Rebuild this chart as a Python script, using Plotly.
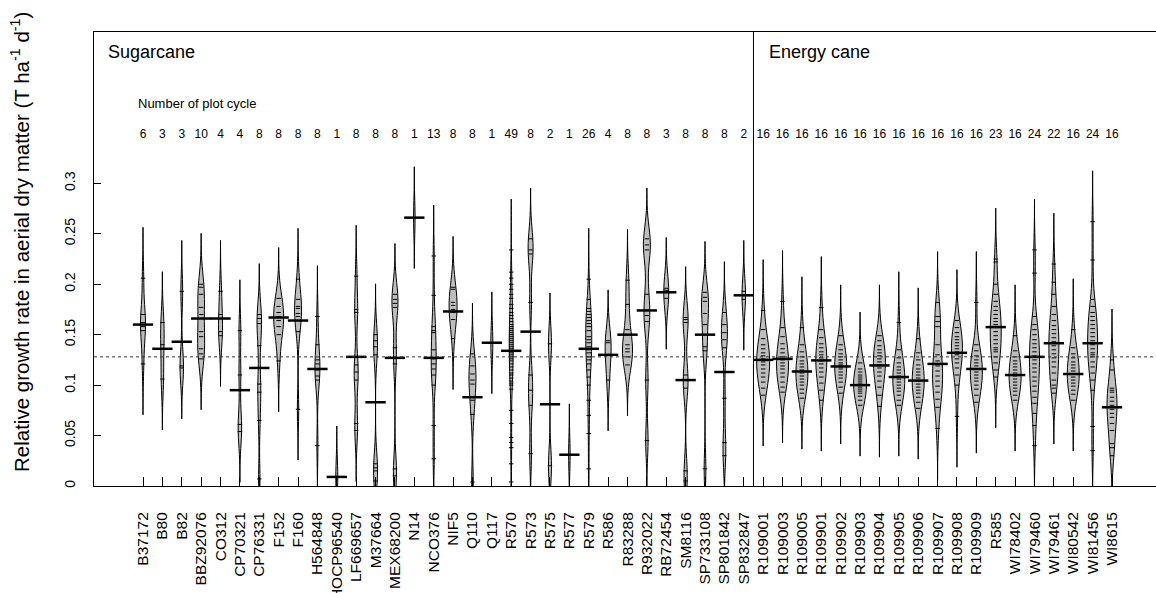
import plotly.graph_objects as go

# ---------------- data ----------------
categories = ["B37172", "B80", "B82", "BBZ92076", "CO312", "CP70321", "CP76331", "F152", "F160",
              "H564848", "HOCP96540", "LF669657", "M37664", "MEX68200", "N14", "NCO376", "NIF5",
              "Q110", "Q117", "R570", "R573", "R575", "R577", "R579", "R586", "R83288", "R932022",
              "RB72454", "SM8116", "SP733108", "SP801842", "SP832847",
              "R109001", "R109003", "R109005", "R109901", "R109902", "R109903", "R109904",
              "R109905", "R109906", "R109907", "R109908", "R109909", "R585", "WI78402",
              "WI79460", "WI79461", "WI80542", "WI81456", "WI8615"]

counts = [6, 3, 3, 10, 4, 4, 8, 8, 8, 8, 1, 8, 8, 8, 1, 13, 8, 8, 1, 49, 8, 2, 1, 26, 4, 8, 8, 3, 8, 8, 8, 2,
          16, 16, 16, 16, 16, 16, 16, 16, 16, 16, 16, 16, 23, 16, 24, 22, 16, 24, 16]

means = [0.160, 0.136, 0.143, 0.166, 0.166, 0.095, 0.117, 0.167, 0.164, 0.116, 0.009, 0.128, 0.083,
         0.127, 0.266, 0.127, 0.173, 0.088, 0.142, 0.134, 0.153, 0.081, 0.031, 0.136, 0.130, 0.150,
         0.174, 0.192, 0.105, 0.150, 0.113, 0.189,
         0.125, 0.126, 0.1135, 0.1245, 0.1185, 0.100, 0.1195, 0.108, 0.1045, 0.121, 0.132, 0.116,
         0.1575, 0.110, 0.128, 0.1415, 0.111, 0.1415, 0.078]

overall_mean = 0.128

obs_B37172 = [0.121, 0.154, 0.158, 0.162, 0.170, 0.206]
obs_B80 = [0.106, 0.140, 0.162]
obs_B82 = [0.117, 0.119, 0.193]
obs_BBZ92076 = [0.126, 0.131, 0.136, 0.148, 0.153, 0.170, 0.177, 0.190, 0.197, 0.200]
obs_CO312 = [0.149, 0.153, 0.170, 0.193]
obs_CP70321 = [0.054, 0.061, 0.110, 0.154]
obs_CP76331 = [0.007, 0.065, 0.093, 0.101, 0.139, 0.161, 0.166, 0.170]
obs_F152 = [0.124, 0.150, 0.158, 0.164, 0.168, 0.172, 0.178, 0.186]
obs_F160 = [0.076, 0.153, 0.168, 0.171, 0.176, 0.178, 0.185, 0.205]
obs_H564848 = [0.040, 0.105, 0.109, 0.115, 0.121, 0.125, 0.140, 0.168]
obs_HOCP96540 = [0.009]
obs_LF669657 = [0.055, 0.062, 0.105, 0.113, 0.120, 0.172, 0.175, 0.208]
obs_M37664 = [0.005, 0.015, 0.018, 0.022, 0.130, 0.138, 0.144, 0.150]
obs_MEX68200 = [0.010, 0.017, 0.121, 0.137, 0.177, 0.181, 0.185, 0.190]
obs_N14 = [0.266]
obs_NCO376 = [0.027, 0.060, 0.100, 0.110, 0.116, 0.121, 0.126, 0.135, 0.152, 0.154, 0.158, 0.189, 0.228]
obs_NIF5 = [0.146, 0.165, 0.172, 0.175, 0.179, 0.182, 0.195, 0.197]
obs_Q110 = [0.004, 0.071, 0.085, 0.101, 0.105, 0.111, 0.119, 0.131]
obs_Q117 = [0.142]
obs_R570 = [0.234, 0.212, 0.206, 0.200, 0.195, 0.190, 0.186, 0.180, 0.176, 0.172, 0.169, 0.166, 0.163,
            0.160, 0.158, 0.156, 0.154, 0.152, 0.150, 0.148, 0.146, 0.144, 0.142, 0.140, 0.138, 0.136,
            0.134, 0.132, 0.130, 0.128, 0.126, 0.124, 0.121, 0.118, 0.115, 0.112, 0.110, 0.107, 0.104,
            0.102, 0.100, 0.096, 0.075, 0.062, 0.048, 0.043, 0.038, 0.022, 0.004]
obs_R573 = [0.032, 0.080, 0.095, 0.110, 0.182, 0.230, 0.234, 0.245]
obs_R575 = [0.020, 0.141]
obs_R577 = [0.031]
obs_R579 = [0.205, 0.185, 0.176, 0.173, 0.170, 0.167, 0.164, 0.161, 0.158, 0.154, 0.148, 0.145, 0.142,
            0.138, 0.135, 0.132, 0.128, 0.125, 0.121, 0.115, 0.108, 0.100, 0.085, 0.070, 0.052, 0.017]
obs_R586 = [0.105, 0.130, 0.142, 0.144]
obs_R83288 = [0.120, 0.128, 0.133, 0.136, 0.140, 0.155, 0.180, 0.204]
obs_R932022 = [0.045, 0.105, 0.163, 0.169, 0.190, 0.234, 0.239, 0.245]
obs_RB72454 = [0.186, 0.194, 0.196]
obs_SM8116 = [0.005, 0.015, 0.097, 0.105, 0.110, 0.162, 0.165, 0.167]
obs_SP733108 = [0.017, 0.134, 0.138, 0.160, 0.171, 0.183, 0.187, 0.192]
obs_SP801842 = [0.030, 0.043, 0.087, 0.137, 0.145, 0.152, 0.160, 0.172]
obs_SP832847 = [0.185, 0.193]
obs_R109001 = [0.090, 0.097, 0.103, 0.108, 0.112, 0.116, 0.120, 0.123, 0.126, 0.129, 0.132, 0.136,
               0.140, 0.146, 0.155, 0.174]
obs_R109003 = [0.093, 0.098, 0.103, 0.108, 0.112, 0.116, 0.119, 0.122, 0.125, 0.128, 0.132, 0.136,
               0.141, 0.148, 0.157, 0.183]
obs_R109005 = [0.087, 0.092, 0.096, 0.100, 0.103, 0.106, 0.109, 0.112, 0.115, 0.118, 0.121, 0.124,
               0.128, 0.133, 0.140, 0.157]
obs_R109901 = [0.085, 0.095, 0.102, 0.108, 0.113, 0.117, 0.121, 0.124, 0.127, 0.130, 0.133, 0.137,
               0.141, 0.147, 0.155, 0.177]
obs_R109902 = [0.092, 0.098, 0.103, 0.107, 0.110, 0.113, 0.116, 0.118, 0.120, 0.122, 0.125, 0.128,
               0.131, 0.135, 0.140, 0.149]
obs_R109903 = [0.080, 0.085, 0.089, 0.092, 0.094, 0.096, 0.098, 0.100, 0.102, 0.104, 0.106, 0.108,
               0.110, 0.113, 0.116, 0.122]
obs_R109904 = [0.079, 0.090, 0.098, 0.104, 0.109, 0.113, 0.117, 0.120, 0.123, 0.126, 0.129, 0.132,
               0.135, 0.139, 0.144, 0.149]
obs_R109905 = [0.080, 0.085, 0.090, 0.094, 0.097, 0.100, 0.103, 0.106, 0.109, 0.112, 0.115, 0.118,
               0.122, 0.127, 0.135, 0.162]
obs_R109906 = [0.077, 0.083, 0.088, 0.092, 0.095, 0.098, 0.101, 0.104, 0.107, 0.110, 0.113, 0.116,
               0.120, 0.125, 0.132, 0.146]
obs_R109907 = [0.057, 0.078, 0.086, 0.093, 0.099, 0.104, 0.109, 0.114, 0.119, 0.124, 0.130, 0.140,
               0.158, 0.163, 0.168, 0.182]
obs_R109908 = [0.069, 0.100, 0.110, 0.117, 0.122, 0.126, 0.130, 0.133, 0.136, 0.139, 0.142, 0.145,
               0.148, 0.152, 0.157, 0.164]
obs_R109909 = [0.083, 0.090, 0.096, 0.100, 0.104, 0.107, 0.110, 0.113, 0.116, 0.119, 0.122, 0.125,
               0.129, 0.134, 0.140, 0.182]
obs_R585 = [0.108, 0.115, 0.122, 0.128, 0.133, 0.135, 0.137, 0.141, 0.145, 0.149, 0.153, 0.157, 0.160,
            0.163, 0.166, 0.170, 0.174, 0.178, 0.183, 0.190, 0.200, 0.222, 0.225]
obs_WI78402 = [0.085, 0.090, 0.094, 0.097, 0.100, 0.103, 0.106, 0.109, 0.112, 0.115, 0.118, 0.121,
               0.124, 0.128, 0.134, 0.149]
obs_WI79460 = [0.040, 0.060, 0.072, 0.082, 0.088, 0.094, 0.099, 0.104, 0.108, 0.113, 0.117, 0.121,
               0.125, 0.129, 0.133, 0.137, 0.141, 0.145, 0.150, 0.155, 0.160, 0.168, 0.211, 0.234]
obs_WI79461 = [0.092, 0.097, 0.100, 0.105, 0.112, 0.118, 0.123, 0.127, 0.131, 0.135, 0.139, 0.143,
               0.147, 0.151, 0.155, 0.159, 0.164, 0.170, 0.178, 0.190, 0.202, 0.220]
obs_WI80542 = [0.085, 0.091, 0.095, 0.099, 0.102, 0.105, 0.108, 0.111, 0.114, 0.117, 0.120, 0.123,
               0.127, 0.131, 0.137, 0.155]
obs_WI81456 = [0.035, 0.059, 0.095, 0.105, 0.112, 0.118, 0.123, 0.128, 0.130, 0.132, 0.136, 0.140,
               0.144, 0.148, 0.152, 0.156, 0.160, 0.164, 0.168, 0.172, 0.178, 0.185, 0.224, 0.262]
obs_WI8615 = [0.030, 0.038, 0.042, 0.055, 0.062, 0.068, 0.072, 0.076, 0.080, 0.084, 0.088, 0.093,
              0.095, 0.097, 0.115, 0.125]

observations = [obs_B37172, obs_B80, obs_B82, obs_BBZ92076, obs_CO312, obs_CP70321, obs_CP76331,
                obs_F152, obs_F160, obs_H564848, obs_HOCP96540, obs_LF669657, obs_M37664,
                obs_MEX68200, obs_N14, obs_NCO376, obs_NIF5, obs_Q110, obs_Q117, obs_R570, obs_R573,
                obs_R575, obs_R577, obs_R579, obs_R586, obs_R83288, obs_R932022, obs_RB72454,
                obs_SM8116, obs_SP733108, obs_SP801842, obs_SP832847,
                obs_R109001, obs_R109003, obs_R109005, obs_R109901, obs_R109902, obs_R109903,
                obs_R109904, obs_R109905, obs_R109906, obs_R109907, obs_R109908, obs_R109909,
                obs_R585, obs_WI78402, obs_WI79460, obs_WI79461, obs_WI80542, obs_WI81456, obs_WI8615]

# ---------------- styles ----------------
W, H = 1156, 593
ML, MR, MT, MB = 94, 0, 32, 107
FIRST_PX = 143     # pixel x of the first category
SLOT_PX = 19.38    # pixel distance between two categories
bean_width_px = [5, 3.5, 3.5, 7, 4, 3.5, 4.5, 10, 7, 5, 2, 4, 4, 6, 1.5, 5, 8, 7, 2, 4, 5, 3, 1.5, 6, 6,
                 10, 7, 5, 5, 7, 6, 3.5,
                 13, 12, 12, 11, 12, 13, 12, 12, 12, 10, 11, 12, 11, 12, 10, 10, 12, 10, 10]
BW = 0.0168   # common kernel bandwidth
CUT = 3
FONT = "Liberation Sans, Arial, sans-serif"
BEAN_FILL = "#bebebe"

x_lo = -(FIRST_PX - ML) / SLOT_PX
x_hi = (W - MR - FIRST_PX) / SLOT_PX

fig = go.Figure()

for i, (cat, vals) in enumerate(zip(categories, observations)):
    fig.add_trace(go.Violin(
        x=[cat] * len(vals), y=vals, name=cat,
        bandwidth=BW, spanmode="manual",
        span=[min(vals) - CUT * BW, max(vals) + CUT * BW],
        scalemode="width", width=bean_width_px[i] / SLOT_PX,
        fillcolor=BEAN_FILL, line=dict(color="black", width=1),
        points="all", jitter=0, pointpos=0,
        marker=dict(symbol="line-ew", size=3.2, color="black",
                    line=dict(color="black", width=1)),
        box_visible=False, meanline_visible=False,
        showlegend=False, hoverinfo="skip",
    ))

# group mean lines
fig.add_trace(go.Scatter(
    x=categories, y=means, mode="markers", showlegend=False, hoverinfo="skip",
    marker=dict(symbol="line-ew", size=14.5, color="black", line=dict(color="black", width=2.5)),
))

# number of plot cycles
fig.add_trace(go.Scatter(
    x=categories, y=[0.348] * len(categories), mode="text", text=[str(c) for c in counts],
    textfont=dict(family=FONT, size=12, color="black"), showlegend=False, hoverinfo="skip",
))

sep = categories.index("R109001") - 0.5
fig.add_shape(type="line", xref="x", yref="paper", x0=sep, x1=sep, y0=0, y1=1,
              line=dict(color="black", width=1))
fig.add_shape(type="line", xref="paper", yref="y", x0=0, x1=1, y0=overall_mean, y1=overall_mean,
              line=dict(color="#333333", width=1, dash="dot"))


def px_x(px):
    return (px - ML) / (W - ML - MR)


def px_y(py):
    return (H - MB - py) / (H - MT - MB)


annotations = [
    dict(text="Sugarcane", x=px_x(106), y=px_y(52), xanchor="left", yanchor="middle",
         font=dict(size=18, family=FONT, color="black")),
    dict(text="Energy cane", x=px_x(767), y=px_y(52), xanchor="left", yanchor="middle",
         font=dict(size=18, family=FONT, color="black")),
    dict(text="Number of plot cycle", x=px_x(136), y=px_y(103), xanchor="left", yanchor="middle",
         font=dict(size=13, family=FONT, color="black")),
    dict(text="Relative growth rate in aerial dry matter (T ha<sup>-1</sup> d<sup>-1</sup>)",
         x=px_x(20), y=px_y(242), xanchor="center", yanchor="middle", textangle=-90,
         font=dict(size=20.5, family=FONT, color="black")),
]
for a in annotations:
    a.update(xref="paper", yref="paper", showarrow=False)

fig.update_layout(
    width=W, height=H, margin=dict(l=ML, r=MR, t=MT, b=MB, autoexpand=False),
    paper_bgcolor="white", plot_bgcolor="white",
    violinmode="overlay", showlegend=False,
    annotations=annotations,
    font=dict(family=FONT, color="black"),
)
fig.update_xaxes(
    type="category", categoryorder="array", categoryarray=categories,
    range=[x_lo, x_hi], showgrid=False, zeroline=False, automargin=False,
    showline=True, linecolor="black", linewidth=1, mirror=True,
    ticks="inside", ticklen=9, tickcolor="black", tickwidth=1,
    tickangle=-90, tickfont=dict(size=15.5, family=FONT, color="black"),
    ticklabelstandoff=19,
)
fig.update_yaxes(
    range=[0, 0.45], showgrid=False, zeroline=False, automargin=False,
    showline=True, linecolor="black", linewidth=1,
    tickvals=[0, 0.05, 0.1, 0.15, 0.2, 0.25, 0.3],
    ticktext=["0", "0.05", "0.1", "0.15", "0.2", "0.25", "0.3"],
    ticks="inside", ticklen=7, tickcolor="black", tickwidth=1,
    tickangle=-90, tickfont=dict(size=14, family=FONT, color="black"),
    ticklabelstandoff=12,
)

fig.write_html(
    "out.html",
    config={"displayModeBar": False},
    post_script="document.body.style.margin='0';document.body.style.overflow='hidden';",
)
